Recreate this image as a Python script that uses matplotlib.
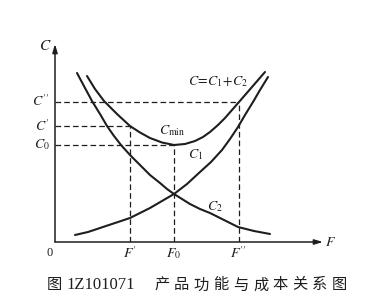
import matplotlib
matplotlib.use("Agg")
import matplotlib.pyplot as plt

plt.rcParams["font.family"] = ["Liberation Serif", "Noto Sans CJK SC", "DejaVu Sans"]
plt.rcParams["mathtext.fontset"] = "stix"

INK = "#1e1e1e"

# 曲线数据（读自原图，任意单位）
c1_f = [0.8, 1.32, 1.8, 2.4, 3.0, 3.4, 3.8, 4.28, 4.76, 5.28, 5.8, 6.24, 6.68,
        7.0, 7.32, 7.6, 7.92, 8.2, 8.52]
c1_c = [0.28, 0.4, 0.56, 0.76, 0.96, 1.16, 1.36, 1.64, 1.92, 2.32, 2.8, 3.2, 3.68,
        4.12, 4.6, 5.08, 5.6, 6.08, 6.6]

c2_f = [0.88, 1.2, 1.48, 1.8, 2.08, 2.36, 2.64, 3.0, 3.4, 3.8, 4.2, 4.48, 4.76,
        5.08, 5.4, 5.8, 6.2, 6.76, 7.32, 7.96, 8.6]
c2_c = [6.76, 6.16, 5.64, 5.12, 4.64, 4.24, 3.88, 3.48, 3.08, 2.68, 2.36, 2.12, 1.92,
        1.72, 1.52, 1.32, 1.16, 0.88, 0.6, 0.44, 0.32]

total_f = [1.28, 1.6, 1.96, 2.48, 3.0, 3.4, 3.8, 4.28, 4.76, 5.2, 5.6, 5.92, 6.2,
           6.52, 6.8, 7.08, 7.36, 7.88, 8.4]
total_c = [6.64, 6.12, 5.64, 5.12, 4.64, 4.38, 4.16, 3.98, 3.88, 3.92, 4.04, 4.2, 4.4,
           4.68, 4.96, 5.28, 5.6, 6.2, 6.8]

# 参考点
f_marks = {"F'": 3.0, "F_0": 4.76, "F''": 7.34}
c_marks = {"C''": 5.62, "C'": 4.64, "C_0": 3.88}
guides = [("F'", "C'"), ("F_0", "C_0"), ("F''", "C''")]

W, H = 392, 308
fig = plt.figure(figsize=(W / 100, H / 100), dpi=100)
fig.patch.set_facecolor("white")

# 坐标原点在 (55, 242) 像素处，1 单位 = 25 像素
ax = fig.add_axes([55 / W, (H - 242) / H, 275 / W, 202 / H])
ax.set_xlim(0, 11)
ax.set_ylim(0, 8.08)
ax.axis("off")

# 坐标轴与箭头
arrow = dict(arrowstyle="-|>,head_length=0.5,head_width=0.15",
             color=INK, lw=1.1, shrinkA=0, shrinkB=0)
ax.annotate("", xy=(10.72, 0), xytext=(0, 0), arrowprops=arrow)
ax.annotate("", xy=(0, 7.92), xytext=(0, 0), arrowprops=arrow)

# 虚线
for fk, ck in guides:
    f, c = f_marks[fk], c_marks[ck]
    ax.plot([0, f], [c, c], ls=(0, (4.5, 2.5)), color=INK, lw=0.9)
    ax.plot([f, f], [0, c], ls=(0, (4.5, 2.5)), color=INK, lw=0.9)

# 曲线
for xs, ys in [(c1_f, c1_c), (c2_f, c2_c), (total_f, total_c)]:
    ax.plot(xs, ys, color=INK, lw=1.5, solid_capstyle="round", solid_joinstyle="round")

fs = 10
# 刻度标签
ax.text(-0.4, 7.84, "$C$", ha="center", va="center", fontsize=11, color=INK)
for name, c in c_marks.items():
    ax.text(-0.22, c, f"${name}$", ha="right", va="center", fontsize=fs, color=INK)
ax.text(-0.2, -0.42, "0", ha="center", va="center", fontsize=9, color=INK)
for name, f in f_marks.items():
    ax.text(f, -0.45, f"${name}$", ha="center", va="center", fontsize=fs, color=INK)
ax.text(11.0, 0.0, "$F$", ha="center", va="center", fontsize=fs, color=INK)

# 曲线标注
ax.text(6.52, 6.4, "$C\\!=\\!C_1\\!+\\!C_2$", ha="center", va="center", fontsize=fs, color=INK)
ax.text(4.68, 4.44, "$C_{\\rm min}$", ha="center", va="center", fontsize=fs, color=INK)
ax.text(5.64, 3.48, "$C_1$", ha="center", va="center", fontsize=fs, color=INK)
ax.text(6.4, 1.4, "$C_2$", ha="center", va="center", fontsize=fs, color=INK)

# 图题
cy = 1 - 285 / H
fig.text(54 / W, cy, "图", ha="center", va="center", fontsize=11,
         family="Noto Sans CJK SC", color=INK)
fig.text(101 / W, cy, "1Z101071", ha="center", va="center", fontsize=12, color=INK)
title = "产品功能与成本关系图"
for i, ch in enumerate(title):
    fig.text((162 + i * 19.75) / W, cy, ch, ha="center", va="center", fontsize=11,
             family="Noto Sans CJK SC", color=INK)

fig.savefig("out.png", dpi=100)
